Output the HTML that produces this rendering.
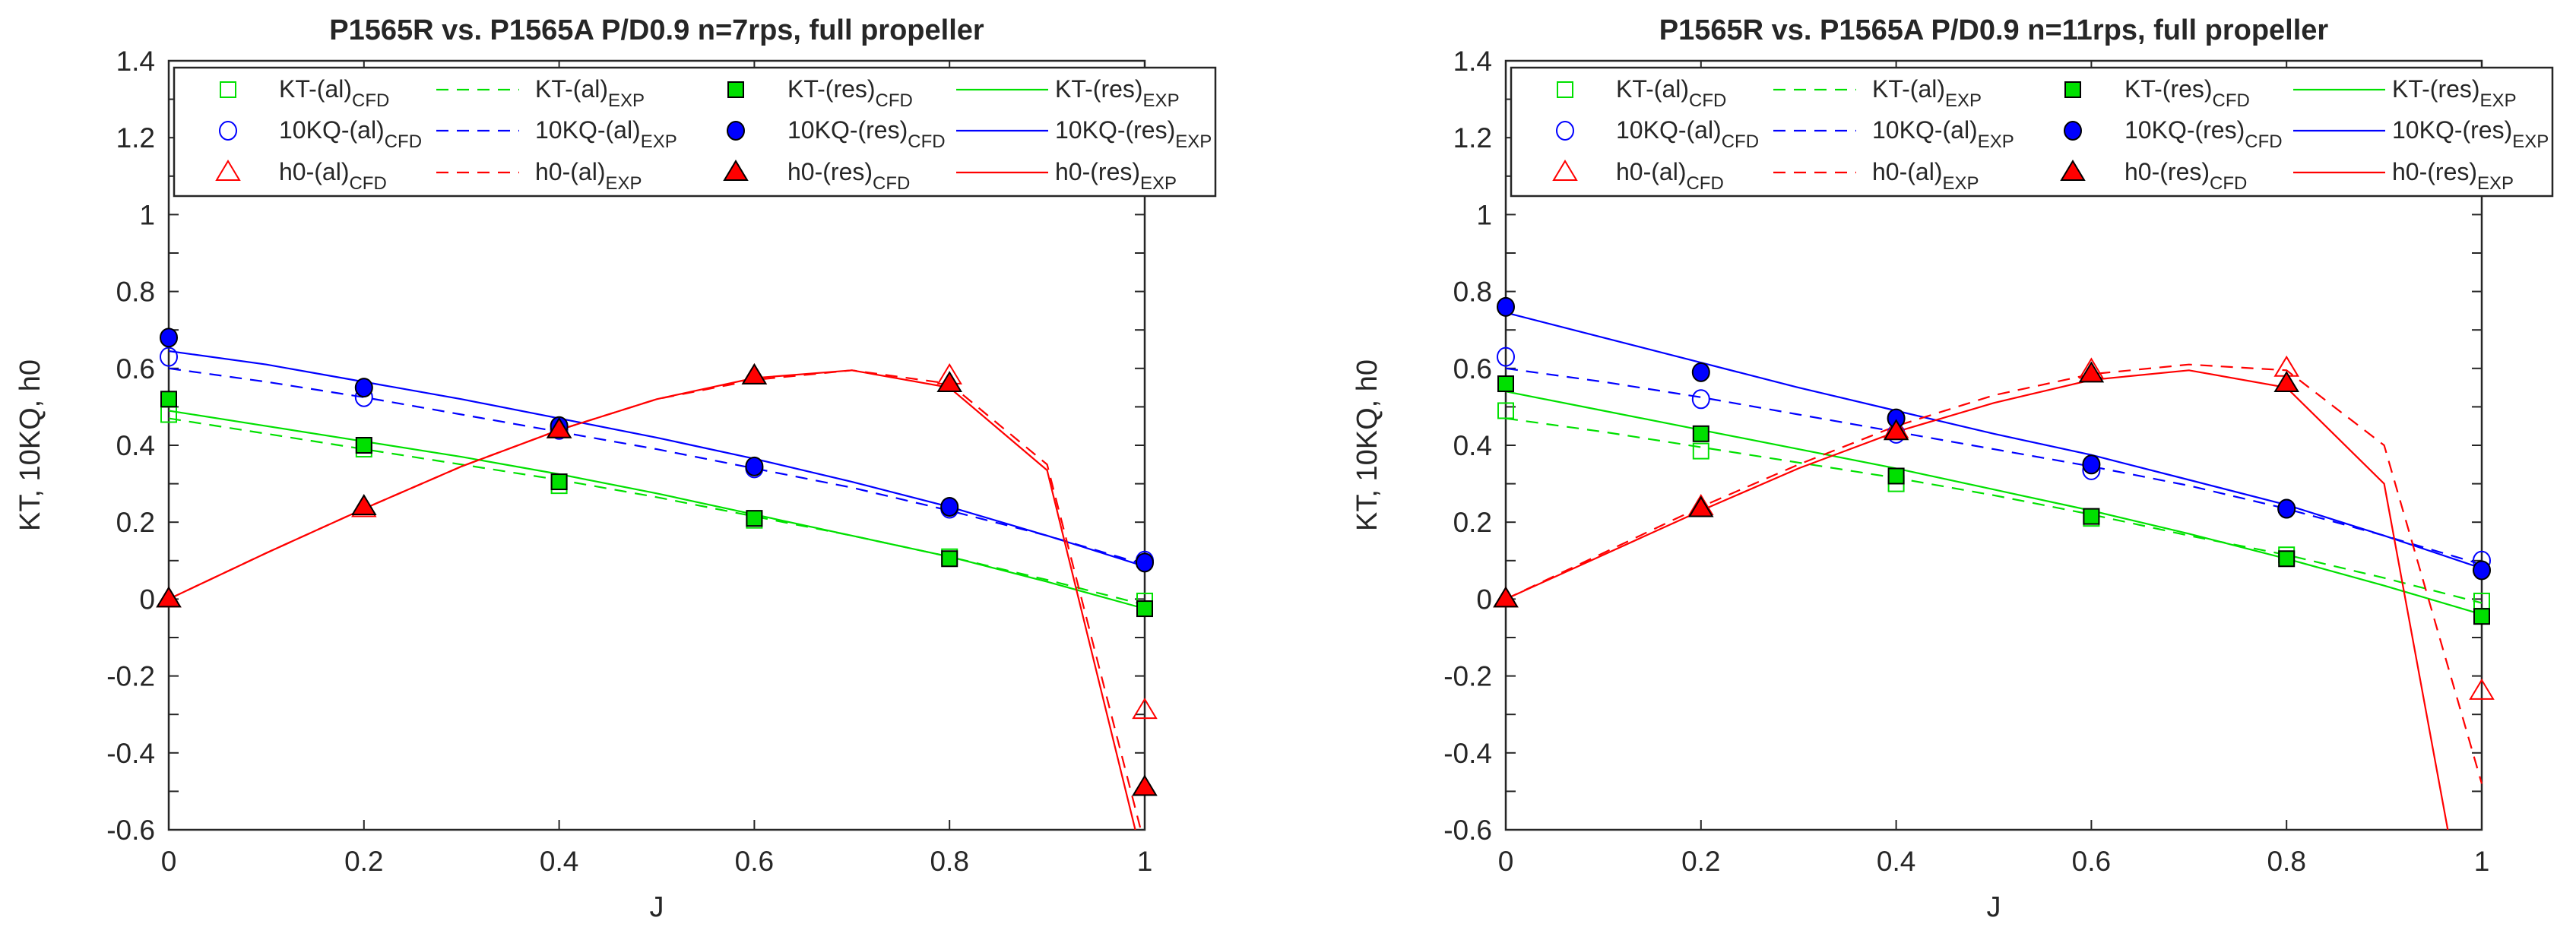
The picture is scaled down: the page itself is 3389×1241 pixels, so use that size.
<!DOCTYPE html>
<html><head><meta charset="utf-8"><style>
html,body{margin:0;padding:0;background:#fff;width:3389px;height:1241px;overflow:hidden}
svg{display:block}
text{font-family:"Liberation Sans",Arial,sans-serif;fill:#262626}
</style></head><body>
<svg id="fig" width="3389" height="1241" viewBox="0 0 3389 1241" xmlns="http://www.w3.org/2000/svg"></svg>
<script>
const Jfine=[0,0.1,0.2,0.3,0.4,0.5,0.6,0.7,0.8,0.9,1.0];
const Jcfd=[0,0.2,0.4,0.6,0.8,1.0];
const xTicks=[0,0.2,0.4,0.6,0.8,1];
const xTickLabels=["0","0.2","0.4","0.6","0.8","1"];
const yTicks=[-0.6,-0.4,-0.2,0,0.2,0.4,0.6,0.8,1,1.2,1.4];
const yTickLabels=["-0.6","-0.4","-0.2","0","0.2","0.4","0.6","0.8","1","1.2","1.4"];
const titles=["P1565R vs. P1565A P/D0.9 n=7rps, full propeller","P1565R vs. P1565A P/D0.9 n=11rps, full propeller"];
// left panel (n=7)
const L_ktAlCfd=[0.48,0.39,0.295,0.205,0.11,-0.005];
const L_ktResCfd=[0.52,0.40,0.305,0.21,0.105,-0.025];
const L_kqAlCfd=[0.63,0.525,0.44,0.34,0.235,0.10];
const L_kqResCfd=[0.68,0.55,0.45,0.345,0.24,0.095];
const L_h0AlCfd=[0,0.235,0.44,0.58,0.58,-0.29];
const L_h0ResCfd=[0,0.24,0.44,0.58,0.56,-0.49];
const L_ktAlExp=[0.47,0.43,0.39,0.35,0.31,0.265,0.215,0.165,0.11,0.05,-0.015];
const L_ktResExp=[0.49,0.45,0.41,0.37,0.325,0.275,0.22,0.165,0.11,0.045,-0.025];
const L_kqAlExp=[0.60,0.565,0.525,0.48,0.435,0.39,0.34,0.29,0.23,0.165,0.09];
const L_kqResExp=[0.645,0.61,0.565,0.52,0.47,0.42,0.365,0.305,0.24,0.165,0.085];
const L_h0AlExp=[0,0.12,0.235,0.345,0.44,0.52,0.57,0.595,0.56,0.35,-0.64];
const L_h0ResExp=[0,0.12,0.235,0.345,0.44,0.52,0.575,0.595,0.55,0.335,-0.70];
// right panel (n=11)
const R_ktAlCfd=[0.49,0.385,0.30,0.21,0.115,-0.005];
const R_ktResCfd=[0.56,0.43,0.32,0.215,0.105,-0.045];
const R_kqAlCfd=[0.63,0.52,0.43,0.335,0.235,0.10];
const R_kqResCfd=[0.76,0.59,0.47,0.35,0.235,0.075];
const R_h0AlCfd=[0,0.24,0.44,0.595,0.6,-0.24];
const R_h0ResCfd=[0,0.235,0.435,0.585,0.56,null];
const R_ktAlExp=[0.47,0.435,0.395,0.355,0.315,0.27,0.22,0.165,0.115,0.055,-0.01];
const R_ktResExp=[0.54,0.49,0.44,0.39,0.34,0.285,0.23,0.17,0.105,0.035,-0.04];
const R_kqAlExp=[0.60,0.565,0.525,0.48,0.435,0.39,0.345,0.295,0.235,0.165,0.09];
const R_kqResExp=[0.745,0.68,0.615,0.55,0.49,0.43,0.375,0.31,0.245,0.165,0.08];
const R_h0AlExp=[0,0.12,0.24,0.35,0.45,0.53,0.585,0.61,0.595,0.40,-0.48];
const R_h0ResExp=[0,0.115,0.23,0.34,0.435,0.51,0.57,0.595,0.55,0.30,-1.08];

const NS="http://www.w3.org/2000/svg";
const svg=document.getElementById('fig');
function mk(tag,attrs,parent){const e=document.createElementNS(NS,tag);for(const k in attrs)e.setAttribute(k,attrs[k]);(parent||svg).appendChild(e);return e;}
const G='#00e000',B='#0000ff',R='#ff0000';

function panel(idx,x0,d){
  const x1=x0+1284,y0=80,y1=1092;
  const X=v=>x0+(v-0)/(1-0)*(x1-x0);
  const Y=v=>y1-(v+0.6)/(2.0)*(y1-y0);
  const g=mk('g',{});
  
  
  const cp=mk('clipPath',{id:'clip'+idx},g);
  mk('rect',{x:x0-20,y:y0,width:x1-x0+40,height:y1-y0},cp);
  const t=mk('text',{x:(x0+x1)/2,y:52,'text-anchor':'middle','font-size':'38','font-weight':'bold'},g);
  t.textContent=titles[idx];
  
  
  const box=mk('rect',{x:x0,y:y0,width:x1-x0,height:y1-y0,fill:'none',stroke:'#262626','stroke-width':2.5},g);
  
  
  for(let i=0;i<=20;i++){const v=-0.6+i*0.1;const yy=Y(v);
    mk('line',{x1:x0,y1:yy,x2:x0+13,y2:yy,stroke:'#262626','stroke-width':2},g);
    mk('line',{x1:x1,y1:yy,x2:x1-13,y2:yy,stroke:'#262626','stroke-width':2},g);}
  yTicks.forEach((v,i)=>{const tl=mk('text',{x:x0-18,y:Y(v)+13,'text-anchor':'end','font-size':'37'},g);tl.textContent=yTickLabels[i];
    
    });
  xTicks.forEach((v,i)=>{const xx=X(v);
    mk('line',{x1:xx,y1:y1,x2:xx,y2:y1-13,stroke:'#262626','stroke-width':2},g);
    mk('line',{x1:xx,y1:y0,x2:xx,y2:y0+13,stroke:'#262626','stroke-width':2},g);
    const tl=mk('text',{x:xx,y:1146,'text-anchor':'middle','font-size':'37'},g);tl.textContent=xTickLabels[i];
    
    });
  const xl=mk('text',{x:(x0+x1)/2,y:1206,'text-anchor':'middle','font-size':'38'},g);xl.textContent='J';
  
  
  const yl=mk('text',{x:0,y:0,'text-anchor':'middle','font-size':'38',transform:`translate(${x0-170},586) rotate(-90)`},g);yl.textContent='KT, 10KQ, h0';
  
  
  const dg=mk('g',{'clip-path':`url(#clip${idx})`},g);
  function line(xs,ys,col,dash,name){
    const pts=xs.map((x,i)=>X(x).toFixed(1)+','+Y(ys[i]).toFixed(1)).join(' ');
    const p=mk('polyline',{points:pts,fill:'none',stroke:col,'stroke-width':2.2,'stroke-dasharray':dash?'16,11':'none'},dg);
    
    
  }
  function marker(type,cx,cy,col,filled,par){
    const st=filled?{fill:col,stroke:'#000','stroke-width':2}:{fill:'none',stroke:col,'stroke-width':2};
    let e;
    if(type==='sq')e=mk('rect',Object.assign({x:cx-10,y:cy-10,width:20,height:20},st),par);
    else if(type==='ci')e=mk('ellipse',Object.assign({cx:cx,cy:cy,rx:11,ry:12},st),par);
    else e=mk('polygon',Object.assign({points:`${cx},${cy-15} ${cx+15},${cy+10} ${cx-15},${cy+10}`},st),par);
    return e;
  }
  function scatter(ys,type,col,filled,name){
    ys.forEach((v,i)=>{if(v===null)return;const e=marker(type,X(Jcfd[i]),Y(v),col,filled,dg);
      
      });
  }
  line(Jfine,d.ktAlExp,G,true,'kt-al-exp-line');
  line(Jfine,d.ktResExp,G,false,'kt-res-exp-line');
  line(Jfine,d.kqAlExp,B,true,'kq-al-exp-line');
  line(Jfine,d.kqResExp,B,false,'kq-res-exp-line');
  line(Jfine,d.h0AlExp,R,true,'h0-al-exp-line');
  line(Jfine,d.h0ResExp,R,false,'h0-res-exp-line');
  scatter(d.ktAlCfd,'sq',G,false,'kt-al-cfd-point');
  scatter(d.kqAlCfd,'ci',B,false,'kq-al-cfd-point');
  scatter(d.h0AlCfd,'tr',R,false,'h0-al-cfd-point');
  scatter(d.ktResCfd,'sq',G,true,'kt-res-cfd-point');
  scatter(d.kqResCfd,'ci',B,true,'kq-res-cfd-point');
  scatter(d.h0ResCfd,'tr',R,true,'h0-res-cfd-point');
  const lx=x0+7,ly=89,lw=1370,lh=169;
  const lg=mk('g',{},g);
  
  
  mk('rect',{x:lx,y:ly,width:lw,height:lh,fill:'#fff',stroke:'#262626','stroke-width':2.5},lg);
  const rows=[['KT',G,'sq'],['10KQ',B,'ci'],['h0',R,'tr']];
  const rowY=[118,172,227];
  rows.forEach((r,i)=>{const yy=rowY[i];
    const m1=marker(r[2],x0+78,yy,r[1],false,lg);
    
    
    const m2=marker(r[2],x0+746,yy,r[1],true,lg);
    
    
    mk('line',{x1:x0+352,y1:yy,x2:x0+461,y2:yy,stroke:r[1],'stroke-width':2.2,'stroke-dasharray':'16,11'},lg);
    mk('line',{x1:x0+1036,y1:yy,x2:x0+1157,y2:yy,stroke:r[1],'stroke-width':2.2},lg);
    const labs=[[x0+145,'(al)','CFD'],[x0+482,'(al)','EXP'],[x0+814,'(res)','CFD'],[x0+1166,'(res)','EXP']];
    labs.forEach(l=>{const te=mk('text',{x:l[0],y:yy+10,'font-size':'32'},lg);
      
      
      const a=mk('tspan',{},te);a.textContent=r[0]+'-'+l[1];
      const b=mk('tspan',{dy:'12','font-size':'24'},te);b.textContent=l[2];});
  });
}
panel(0,222,{ktAlCfd:L_ktAlCfd,ktResCfd:L_ktResCfd,kqAlCfd:L_kqAlCfd,kqResCfd:L_kqResCfd,h0AlCfd:L_h0AlCfd,h0ResCfd:L_h0ResCfd,ktAlExp:L_ktAlExp,ktResExp:L_ktResExp,kqAlExp:L_kqAlExp,kqResExp:L_kqResExp,h0AlExp:L_h0AlExp,h0ResExp:L_h0ResExp});
panel(1,1981,{ktAlCfd:R_ktAlCfd,ktResCfd:R_ktResCfd,kqAlCfd:R_kqAlCfd,kqResCfd:R_kqResCfd,h0AlCfd:R_h0AlCfd,h0ResCfd:R_h0ResCfd,ktAlExp:R_ktAlExp,ktResExp:R_ktResExp,kqAlExp:R_kqAlExp,kqResExp:R_kqResExp,h0AlExp:R_h0AlExp,h0ResExp:R_h0ResExp});
</script>
</body></html>
